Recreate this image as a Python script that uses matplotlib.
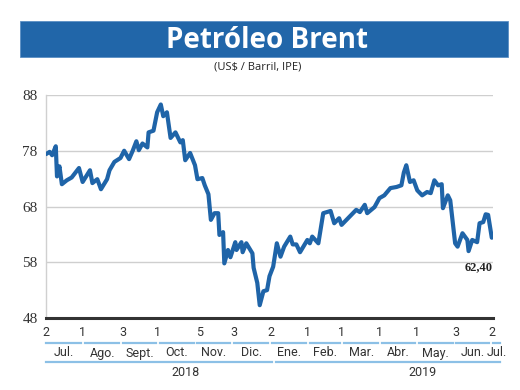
import matplotlib
matplotlib.use("Agg")
import matplotlib.pyplot as plt
import matplotlib.dates as mdates
import matplotlib.transforms as mtrans
import numpy as np
import pandas as pd

# ---------------- data ----------------
dates = ["2018-07-02", "2018-07-05", "2018-07-07", "2018-07-10", "2018-07-11", "2018-07-13",
         "2018-07-15", "2018-07-19", "2018-07-23", "2018-07-29", "2018-08-01", "2018-08-07",
         "2018-08-09", "2018-08-13", "2018-08-16", "2018-08-21", "2018-08-23", "2018-08-27",
         "2018-09-01", "2018-09-04", "2018-09-08", "2018-09-11", "2018-09-14", "2018-09-16",
         "2018-09-19", "2018-09-23", "2018-09-24", "2018-09-28", "2018-10-01", "2018-10-04",
         "2018-10-06", "2018-10-09", "2018-10-12", "2018-10-16", "2018-10-20", "2018-10-22",
         "2018-10-24", "2018-10-28", "2018-11-01", "2018-11-03", "2018-11-07", "2018-11-09",
         "2018-11-12", "2018-11-14", "2018-11-17", "2018-11-20", "2018-11-21", "2018-11-24",
         "2018-11-25", "2018-11-28", "2018-11-30", "2018-12-04", "2018-12-05", "2018-12-09",
         "2018-12-10", "2018-12-13", "2018-12-18", "2018-12-19", "2018-12-22", "2018-12-24",
         "2018-12-27", "2018-12-30", "2019-01-01", "2019-01-04", "2019-01-07", "2019-01-10",
         "2019-01-13", "2019-01-18", "2019-01-20", "2019-01-23", "2019-01-26", "2019-02-01",
         "2019-02-03", "2019-02-05", "2019-02-10", "2019-02-14", "2019-02-20", "2019-02-23",
         "2019-02-27", "2019-03-01", "2019-03-13", "2019-03-16", "2019-03-20", "2019-03-22",
         "2019-03-28", "2019-04-01", "2019-04-05", "2019-04-10", "2019-04-15", "2019-04-19",
         "2019-04-21", "2019-04-23", "2019-04-26", "2019-04-29", "2019-05-02", "2019-05-06",
         "2019-05-10", "2019-05-13", "2019-05-16", "2019-05-19", "2019-05-22", "2019-05-23",
         "2019-05-27", "2019-05-29", "2019-06-02", "2019-06-04", "2019-06-08", "2019-06-12",
         "2019-06-13", "2019-06-16", "2019-06-20", "2019-06-22", "2019-06-25", "2019-06-27",
         "2019-06-29", "2019-07-02"]
prices = [77.4, 77.8, 77.2, 78.8, 73.4, 75.2,
          72.0, 72.7, 73.2, 74.9, 72.4, 74.5,
          72.2, 72.9, 71.1, 72.9, 74.5, 76.0,
          76.7, 78.0, 76.5, 78.0, 79.7, 78.1,
          79.3, 78.6, 81.3, 81.6, 84.9, 86.3,
          84.2, 84.9, 80.3, 81.3, 79.5, 79.9,
          76.3, 77.6, 75.4, 72.9, 73.1, 71.8,
          70.2, 65.6, 66.8, 66.8, 62.9, 63.4,
          57.8, 60.2, 58.9, 61.6, 60.2, 61.6,
          59.8, 61.4, 59.6, 57.0, 54.3, 50.3,
          52.8, 53.0, 55.5, 57.2, 61.4, 59.0,
          60.8, 62.6, 61.2, 61.2, 59.8, 62.0,
          61.4, 62.6, 61.4, 66.8, 67.2, 65.0,
          65.9, 64.7, 67.4, 67.0, 68.3, 66.8,
          67.9, 69.5, 70.0, 71.3, 71.5, 71.8,
          74.1, 75.4, 72.4, 72.7, 70.9, 70.0,
          70.6, 70.4, 72.7, 71.8, 72.0, 67.7,
          70.0, 69.1, 61.4, 60.8, 63.2, 62.0,
          60.0, 62.0, 61.6, 65.0, 65.2, 66.6,
          66.5, 62.4]

y_ticks = [48, 58, 68, 78, 88]
tick_dates = ["2018-07-02", "2018-08-01", "2018-09-03", "2018-10-01", "2018-11-05", "2018-12-03",
              "2019-01-02", "2019-02-01", "2019-03-01", "2019-04-01", "2019-05-01", "2019-06-03",
              "2019-07-02"]
tick_labels = ["2", "1", "3", "1", "5", "3", "2", "1", "1", "1", "1", "3", "2"]
month_starts = ["2018-07-02", "2018-08-01", "2018-09-01", "2018-10-01", "2018-11-01", "2018-12-01",
                "2019-01-01", "2019-02-01", "2019-03-01", "2019-04-01", "2019-05-01", "2019-06-01",
                "2019-07-01"]
month_ends = ["2018-07-31", "2018-08-31", "2018-09-30", "2018-10-31", "2018-11-30", "2018-12-31",
              "2019-01-31", "2019-02-28", "2019-03-31", "2019-04-30", "2019-05-31", "2019-06-30",
              "2019-07-09"]
month_labels = ["Jul.", "Ago.", "Sept.", "Oct.", "Nov.", "Dic.", "Ene.", "Feb.", "Mar.", "Abr.",
                "May.", "Jun.", "Jul."]
years = ["2018", "2019"]
last_label = "62,40"
title = "Petróleo Brent"
subtitle = "(US$ / Barril, IPE)"

# ---------------- style ----------------
BLUE = "#1f64a8"
BAR = "#2166a9"
LIGHT = "#8cc0e6"
TXT = "#333333"
cond = ["Liberation Sans Narrow", "Roboto", "DejaVu Sans"]

x = pd.to_datetime(dates)
fig = plt.figure(figsize=(5.2, 3.9), dpi=100)
ax = fig.add_axes([46/520, 72/390, 447/520, 223/390])

ax.plot(x, prices, color=BLUE, lw=3.0, solid_joinstyle="round", solid_capstyle="round", zorder=3)
ax.set_ylim(48, 88)
ax.set_xlim(pd.Timestamp("2018-07-02"), pd.Timestamp("2019-07-03"))
ax.set_yticks(y_ticks)
ax.yaxis.grid(True, color="#cfcfcf", lw=1.0)
ax.set_xticks([])
for s in ["top", "right"]:
    ax.spines[s].set_visible(False)
ax.spines["left"].set_color("#d0d0d0")
ax.spines["left"].set_linewidth(1.0)
ax.spines["bottom"].set_color("#333333")
ax.spines["bottom"].set_linewidth(2.2)
ax.tick_params(axis="y", length=0, pad=6, labelsize=11, labelcolor=TXT)
for lab in ax.get_yticklabels():
    lab.set_family(["Liberation Serif", "DejaVu Serif"])

ax.text(pd.Timestamp("2019-06-21"), 57.2, last_label, fontsize=9, fontweight="bold",
        family=["Liberation Serif", "DejaVu Serif"], color="#222222", ha="center", va="center")

# x-axis decoration
trans = mtrans.blended_transform_factory(ax.transData, fig.transFigure)
day = pd.Timedelta(days=1)
for d, t in zip(tick_dates, tick_labels):
    fig.text(mdates.date2num(pd.Timestamp(d)), 1 - 333/390, t, transform=trans, ha="center",
             va="center", fontsize=9, color=TXT, family=cond)
for i, (s, e, m) in enumerate(zip(month_starts, month_ends, month_labels)):
    s0 = pd.Timestamp(s) + (0 if i == 0 else 2) * day
    e0 = pd.Timestamp(e)
    ln = plt.Line2D([mdates.date2num(s0), mdates.date2num(e0)], [1 - 343/390] * 2,
                    transform=trans, color=LIGHT, lw=1.6)
    fig.add_artist(ln)
    mid = s0 + (e0 - s0) / 2
    fig.text(mdates.date2num(mid), 1 - 353/390, m, transform=trans, ha="center", va="center",
             fontsize=9, color=TXT, family=cond)

year_spans = [("2018-07-02", "2019-01-03"), ("2019-01-06", "2019-07-09")]
year_pos = ["2018-10-24", "2019-05-06"]
for (s, e), yl, p in zip(year_spans, years, year_pos):
    ln = plt.Line2D([mdates.date2num(pd.Timestamp(s)), mdates.date2num(pd.Timestamp(e))],
                    [1 - 362/390] * 2, transform=trans, color=LIGHT, lw=1.6)
    fig.add_artist(ln)
    fig.text(mdates.date2num(pd.Timestamp(p)), 1 - 372/390, yl, transform=trans, ha="center",
             va="center", fontsize=9, color=TXT, family=cond)

# title bar
fig.add_artist(plt.Rectangle((20/520, 1 - 57/390), 488/520, 36/390, transform=fig.transFigure,
                             facecolor=BAR, edgecolor="#5b8fc4", lw=0.6))
fig.text(267.5/520, 1 - 40/390, title, ha="center", va="center", color="white", fontsize=20,
         fontweight="bold", family=["Open Sans", "DejaVu Sans"])
fig.text(257.5/520, 1 - 67/390, subtitle, ha="center", va="center", color="#222222", fontsize=8,
         family=["Open Sans", "DejaVu Sans"])

fig.savefig("out.png", dpi=100)
